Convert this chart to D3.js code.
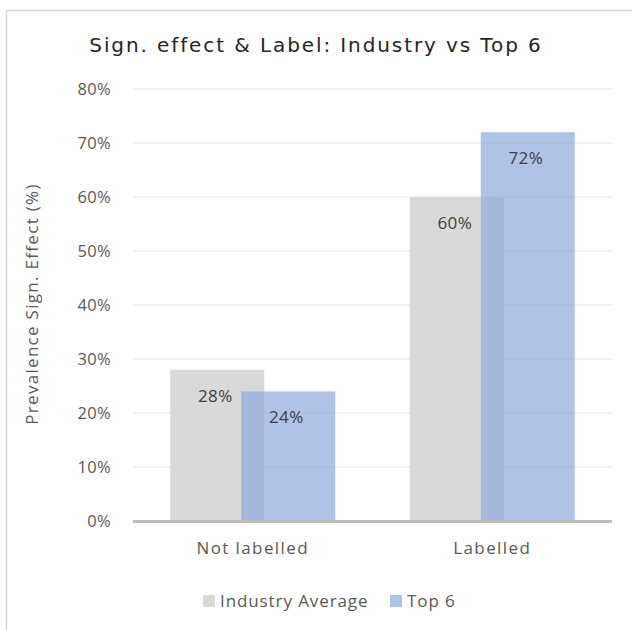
<!DOCTYPE html>
<html>
<head>
<meta charset="utf-8">
<script src="https://cdn.jsdelivr.net/npm/d3@7/dist/d3.min.js"></script>
<style>
  html, body { margin: 0; padding: 0; background: #fff; }
  svg { display: block; }
</style>
</head>
<body>
<div id="chart"></div>
<script>
// Categories, series and tick values
const categories = ["Not labelled", "Labelled"];
const seriesNames = ["Industry Average", "Top 6"];
const industryAverage = [28, 60];
const top6 = [24, 72];
const yTicks = [0, 10, 20, 30, 40, 50, 60, 70, 80];

const W = 632, H = 630;
const margin = { left: 133, right: 20 };
const axisFont = "'Open Sans', 'Liberation Sans', sans-serif";

const svg = d3.select("#chart").append("svg")
  .attr("width", W).attr("height", H);

// Chart frame
svg.append("rect")
  .attr("x", 6.5).attr("y", 10.5)
  .attr("width", W + 10).attr("height", H + 10)
  .attr("fill", "#fff").attr("stroke", "#d9d9d9").attr("stroke-width", 1.5);

// Title
svg.append("text")
  .attr("x", 316).attr("y", 52)
  .attr("text-anchor", "middle")
  .attr("font-family", "'DejaVu Sans', Verdana, sans-serif")
  .attr("font-size", 20)
  .attr("fill", "#262626")
  .attr("letter-spacing", 1.9)
  .text("Sign. effect & Label: Industry vs Top 6");

const x0 = d3.scaleBand().domain(categories)
  .range([margin.left, W - margin.right]).paddingInner(0).paddingOuter(0);
const y = d3.scaleLinear().domain([0, 80]).range([521, 89]);

// Gridlines
svg.append("g")
  .selectAll("line").data(yTicks.filter(d => d > 0)).join("line")
  .attr("x1", margin.left).attr("x2", W - margin.right)
  .attr("y1", d => y(d)).attr("y2", d => y(d))
  .attr("stroke", "#ececec").attr("stroke-width", 1.5);

// Y axis tick labels
const yAxis = d3.axisLeft(y).tickValues(yTicks).tickFormat(d => d + "%").tickSize(0).tickPadding(0);
const gy = svg.append("g").attr("transform", `translate(${111},0)`).call(yAxis);
gy.select(".domain").remove();
gy.selectAll("text")
  .attr("font-family", axisFont).attr("font-size", 16.5)
  .attr("fill", "#595959").attr("dy", "0.36em")
  .attr("letter-spacing", 0.3);

// Y axis title
svg.append("text")
  .attr("transform", `translate(38,304) rotate(-90)`)
  .attr("text-anchor", "middle")
  .attr("font-family", axisFont).attr("font-size", 17)
  .attr("letter-spacing", 1.3)
  .attr("fill", "#595959")
  .text("Prevalence Sign. Effect (%)");

// Bars: two overlapping series per category
const barW = 94, overlap = 23;
const groupW = barW * 2 - overlap;
const series = [
  { name: seriesNames[0], values: industryAverage, color: "#d9d9d9", opacity: 1, offset: 0 },
  { name: seriesNames[1], values: top6, color: "#8eaadb", opacity: 0.7, offset: barW - overlap }
];
const bars = svg.append("g");
series.forEach(s => {
  bars.append("g").selectAll("rect").data(categories).join("rect")
    .attr("x", (c) => x0(c) + x0.bandwidth() / 2 - groupW / 2 + s.offset)
    .attr("width", barW)
    .attr("y", (c, i) => y(s.values[i]))
    .attr("height", (c, i) => y(0) - y(s.values[i]))
    .attr("fill", s.color).attr("fill-opacity", s.opacity);
});
// Data labels
series.forEach(s => {
  svg.append("g").selectAll("text").data(categories).join("text")
    .attr("x", (c) => x0(c) + x0.bandwidth() / 2 - groupW / 2 + s.offset + barW / 2 - 2)
    .attr("y", (c, i) => y(s.values[i]) + 32)
    .attr("text-anchor", "middle")
    .attr("font-family", axisFont).attr("font-size", 17)
    .attr("letter-spacing", 0.4)
    .attr("fill", "#404040")
    .text((c, i) => s.values[i] + "%");
});

// X axis baseline
svg.append("line")
  .attr("x1", margin.left).attr("x2", W - margin.right)
  .attr("y1", y(0) + 0.5).attr("y2", y(0) + 0.5)
  .attr("stroke", "#bfbfbf").attr("stroke-width", 3);

// Category labels
const xAxis = d3.axisBottom(x0).tickSize(0).tickPadding(0);
const gx = svg.append("g").attr("transform", `translate(0,${y(0) + 21})`).call(xAxis);
gx.select(".domain").remove();
gx.selectAll("text")
  .attr("font-family", axisFont).attr("font-size", 17)
  .attr("letter-spacing", 1.4)
  .attr("fill", "#595959").attr("dy", "0.71em");

// Legend
const legendItems = [
  { name: seriesNames[0], color: "#d9d9d9", opacity: 1, x: 203 },
  { name: seriesNames[1], color: "#8eaadb", opacity: 0.7, x: 390 }
];
const lg = svg.append("g");
legendItems.forEach(it => {
  lg.append("rect").attr("x", it.x).attr("y", 595).attr("width", 12).attr("height", 12)
    .attr("fill", it.color).attr("fill-opacity", it.opacity);
  lg.append("text").attr("x", it.x + 17).attr("y", 607)
    .attr("font-family", axisFont).attr("font-size", 17)
    .attr("letter-spacing", 0.9)
    .attr("fill", "#595959").text(it.name);
});
</script>
</body>
</html>
